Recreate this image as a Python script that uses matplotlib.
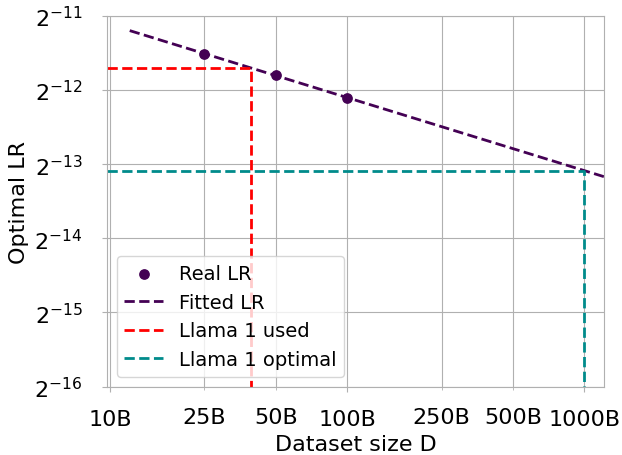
import numpy as np
import matplotlib
matplotlib.use('Agg')
import matplotlib.pyplot as plt

# data (dataset size in billions of tokens, learning rate as log2)
dataset_sizes = [25, 50, 100]
real_lr_log2 = [-11.515, -11.794, -12.108]
llama1_used_lr = 3e-4
llama1_tokens = 1000

major_ticks = [10, 100, 1000]
major_labels = ["10B", "100B", "1000B"]
minor_ticks = [25, 50, 250, 500]
minor_labels = ["25B", "50B", "250B", "500B"]
y_ticks = [2.0 ** -k for k in range(11, 17)]
y_tick_labels = [r"$2^{-%d}$" % k for k in range(11, 17)]

purple = "#440154"
teal = "#008b8b"

# fit log2(lr) = a + b*log10(D)
b, a = np.polyfit(np.log10(dataset_sizes), real_lr_log2, 1)
def fitted(d):
    return 2.0 ** (a + b * np.log10(d))

used_d = 10 ** ((np.log2(llama1_used_lr) - a) / b)
opt_lr = fitted(llama1_tokens)

xmin, xmax = 9.7, 1210
ymin, ymax = 2.0 ** -16, 2.0 ** -11

fig, ax = plt.subplots(figsize=(6.22, 4.56), dpi=100)
fig.subplots_adjust(left=0.172, right=0.971, top=0.963, bottom=0.150)

ax.scatter(dataset_sizes, 2.0 ** np.array(real_lr_log2), color=purple, s=45, zorder=3, label="Real LR")
xs = np.logspace(np.log10(12.1), np.log10(1300), 50)
ax.plot(xs, fitted(xs), "--", color=purple, linewidth=2, label="Fitted LR")
ax.plot([xmin, used_d, used_d], [llama1_used_lr, llama1_used_lr, ymin], "--", color="red", linewidth=2, label="Llama 1 used")
ax.plot([xmin, llama1_tokens, llama1_tokens], [opt_lr, opt_lr, ymin], "--", color=teal, linewidth=2, label="Llama 1 optimal")

ax.set_xscale("log")
ax.set_yscale("log", base=2)
ax.set_xlim(xmin, xmax)
ax.set_ylim(ymin, ymax)
ax.set_xticks(major_ticks)
ax.set_xticklabels(major_labels)
ax.set_xticks(minor_ticks, minor=True)
ax.set_xticklabels(minor_labels, minor=True)
ax.set_yticks(y_ticks)
ax.set_yticklabels(y_tick_labels)
ax.set_yticks([], minor=True)
ax.tick_params(which="both", labelsize=16, color="#b0b0b0")
ax.tick_params(axis="x", which="both", pad=12.5)
ax.tick_params(axis="y", pad=14)
for s in ax.spines.values():
    s.set_color("#b0b0b0")
ax.grid(True, which="both")
ax.set_xlabel("Dataset size D", fontsize=16)
ax.set_ylabel("Optimal LR", fontsize=16)
ax.legend(loc="lower left", fontsize=14)

plt.savefig("out.png", dpi=100)
